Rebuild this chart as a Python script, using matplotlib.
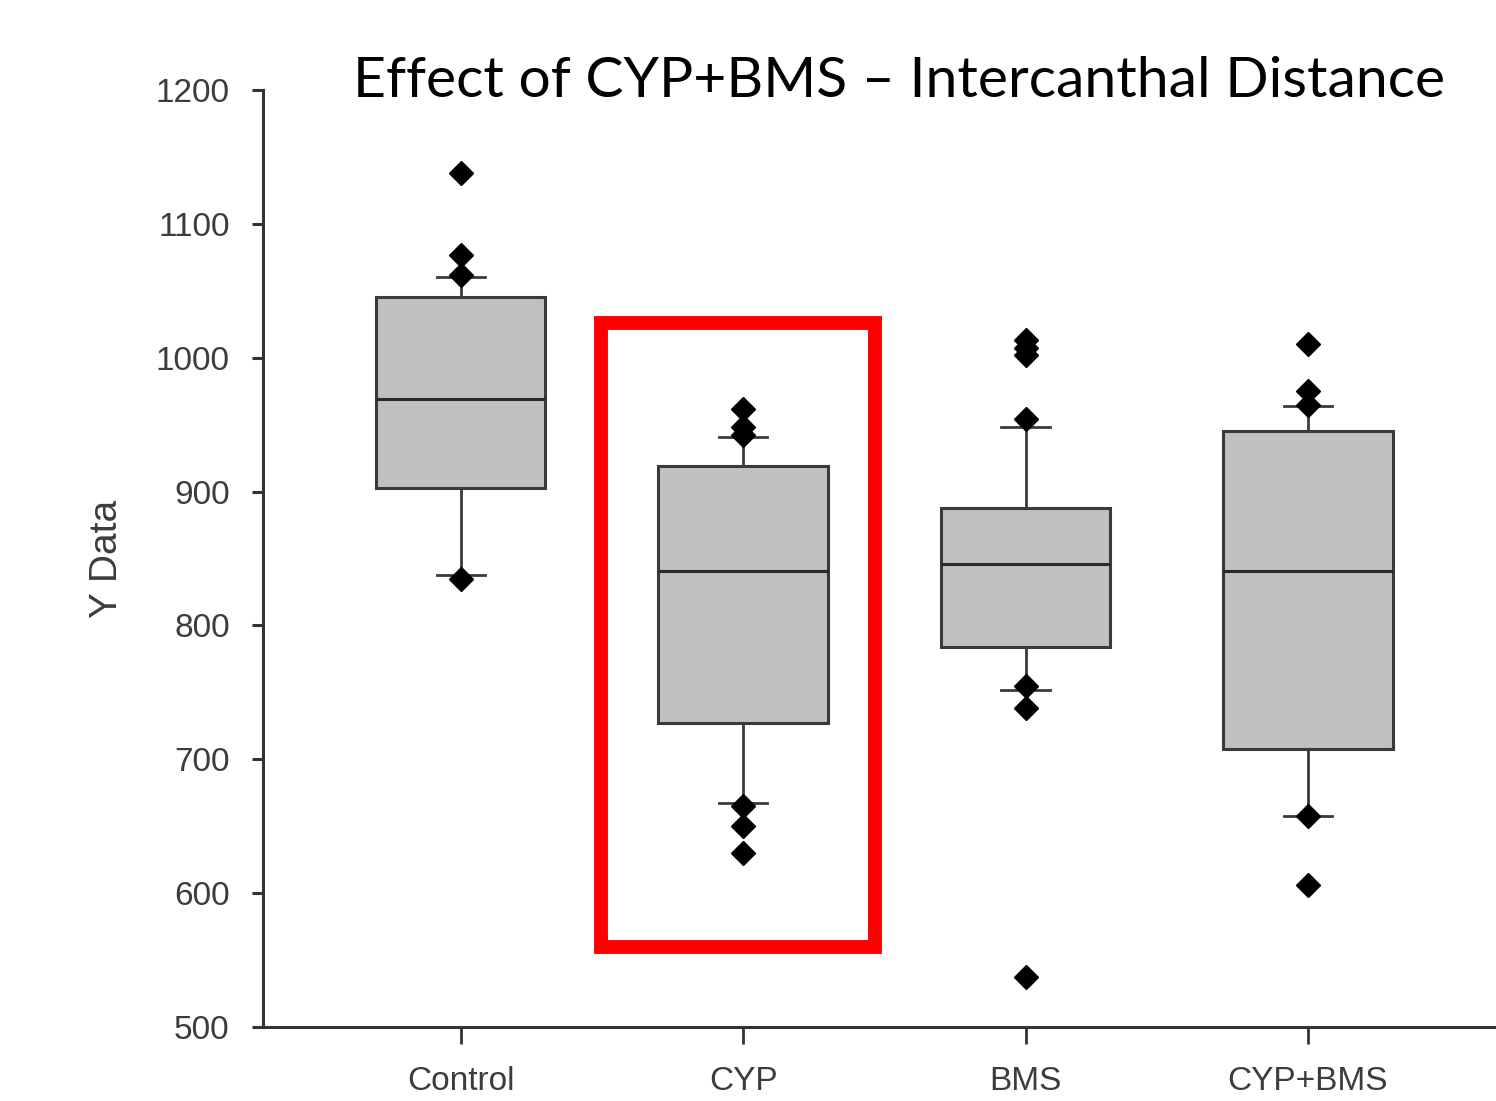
import matplotlib
matplotlib.use("Agg")
import matplotlib.pyplot as plt
from matplotlib.patches import Rectangle

# box statistics
groups = ["Control", "CYP", "BMS", "CYP+BMS"]
q1 = [903, 727, 784, 708]
med = [969, 841, 846, 841]
q3 = [1045, 919, 888, 945]
whislo = [838, 667, 752, 658]
whishi = [1060, 941, 948, 964]
outliers = [
    [1138, 1077, 1062, 835],
    [962, 948, 942, 665, 650, 630],
    [1013, 1007, 1002, 954, 755, 738, 537],
    [1010, 975, 965, 658, 606],
]
yticks = [500, 600, 700, 800, 900, 1000, 1100, 1200]

stats = []
for i in range(len(groups)):
    stats.append({"label": groups[i], "q1": q1[i], "med": med[i], "q3": q3[i],
                  "whislo": whislo[i], "whishi": whishi[i], "fliers": outliers[i]})

tick_font = ["Liberation Sans", "DejaVu Sans"]
axcol = "#333333"

fig = plt.figure(figsize=(14.96, 11.01), dpi=100)
ax = fig.add_axes([0.1758, 0.0672, 0.8242, 0.8511])

ax.bxp(stats, positions=[1, 2, 3, 4], widths=0.6, capwidths=0.17, patch_artist=True,
       boxprops=dict(facecolor="#c0c0c0", edgecolor="#3a3a3a", linewidth=2.2),
       medianprops=dict(color="#2a2a2a", linewidth=2.2),
       whiskerprops=dict(color="#3a3a3a", linewidth=2),
       capprops=dict(color="#3a3a3a", linewidth=2),
       flierprops=dict(marker="D", markerfacecolor="black", markeredgecolor="black",
                       markersize=12))

ax.set_xlim(0.3, 4.666)
ax.set_ylim(500, 1200)
ax.set_yticks(yticks)
ax.set_xticks([1, 2, 3, 4])
ax.set_xticklabels(groups)

for s in ["top", "right"]:
    ax.spines[s].set_visible(False)
for s in ["left", "bottom"]:
    ax.spines[s].set_color(axcol)
    ax.spines[s].set_linewidth(2.2)

ax.tick_params(axis="y", direction="out", length=8, width=2.2, color=axcol, pad=16)
ax.tick_params(axis="x", direction="out", length=12, width=2, color=axcol, pad=16)
for lab in ax.get_yticklabels() + ax.get_xticklabels():
    lab.set_family(tick_font)
    lab.set_fontsize(24)
    lab.set_color("#3c3c3c")

ax.set_ylabel("Y Data", family=tick_font, fontsize=28, color="#3c3c3c", labelpad=22)

# red highlight around CYP
ax.add_patch(Rectangle((1.496, 560), 0.971, 466, fill=False, edgecolor="#ff0000",
                       linewidth=10, clip_on=False, zorder=5))

fig.text(0.601, 0.926, "Effect of CYP+BMS \u2013 Intercanthal Distance", ha="center", va="center",
         family=["Lato", "DejaVu Sans"], fontsize=41, color="black")

fig.savefig("out.png", dpi=100)
